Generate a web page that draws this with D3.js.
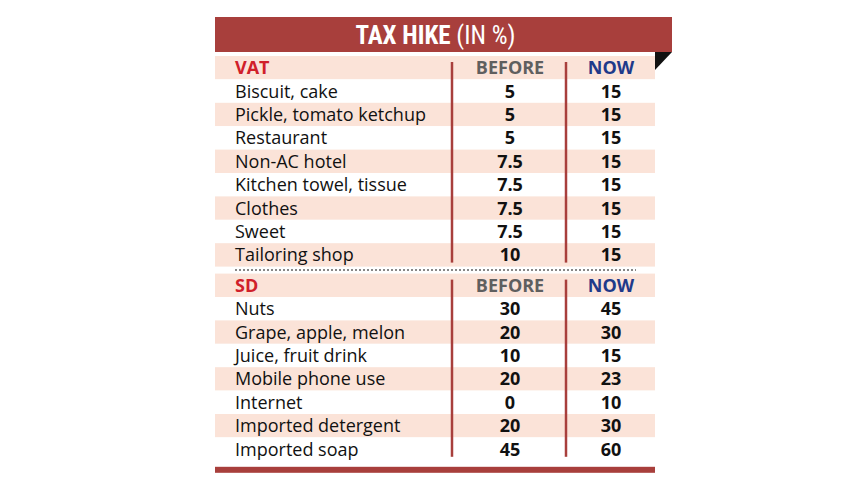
<!DOCTYPE html>
<html><head><meta charset="utf-8">
<script src="https://cdn.jsdelivr.net/npm/d3@7"></script>
<style>body{margin:0;background:#fff}</style>
</head><body>
<script>
var vatItems = ["Biscuit, cake","Pickle, tomato ketchup","Restaurant","Non-AC hotel","Kitchen towel, tissue","Clothes","Sweet","Tailoring shop"];
var vatBefore = ["5","5","5","7.5","7.5","7.5","7.5","10"];
var vatNow = ["15","15","15","15","15","15","15","15"];
var sdItems = ["Nuts","Grape, apple, melon","Juice, fruit drink","Mobile phone use","Internet","Imported detergent","Imported soap"];
var sdBefore = ["30","20","10","20","0","20","45"];
var sdNow = ["45","30","15","23","10","30","60"];

var W = 860, H = 484, left = 215, right = 655, rowH = 23.4;
var red = "#a83f3c", peach = "#fbe3d8", font = "'Open Sans', 'Noto Sans', sans-serif";
var svg = d3.select("body").append("svg").attr("width", W).attr("height", H);

// banner
svg.append("rect").attr("x", left).attr("y", 17).attr("width", 672 - left).attr("height", 35).attr("fill", red);
svg.append("path").attr("d", "M655,52 L672,52 L655,70 Z").attr("fill", "#111");
var t = svg.append("text").attr("x", (left + 672) / 2 - 8).attr("y", 44).attr("text-anchor", "middle")
  .attr("fill", "#fff").attr("font-family", "'Liberation Sans Narrow', 'Roboto Condensed', 'Open Sans', sans-serif")
  .attr("font-size", 25).attr("font-stretch", "condensed");
t.append("tspan").attr("font-weight", "bold").text("TAX HIKE ");
t.append("tspan").text("(IN %)");

function section(title, items, before, now, top) {
  var y = d3.scaleBand().domain(d3.range(items.length + 1)).range([top, top + rowH * (items.length + 1)]);
  var g = svg.append("g");
  g.selectAll("rect").data(d3.range(items.length + 1)).enter().append("rect")
    .attr("x", left).attr("y", function(d) { return y(d); })
    .attr("width", right - left).attr("height", y.bandwidth())
    .attr("fill", function(d) { return d % 2 == 0 ? peach : "#fff"; });
  var rows = [{l: title, b: "BEFORE", n: "NOW", h: true}].concat(items.map(function(d, i) {
    return {l: d, b: before[i], n: now[i]};
  }));
  var r = g.selectAll("g.row").data(rows).enter().append("g")
    .attr("transform", function(d, i) { return "translate(0," + (y(i) + y.bandwidth() / 2 + 6.5) + ")"; })
    .attr("font-family", font).attr("font-size", 18);
  r.append("text").attr("x", 235).text(function(d) { return d.l; })
    .attr("fill", function(d) { return d.h ? "#d0202a" : "#111"; })
    .attr("font-weight", function(d) { return d.h ? "bold" : "normal"; });
  r.append("text").attr("x", 510).attr("text-anchor", "middle").attr("font-weight", "bold")
    .attr("fill", function(d) { return d.h ? "#5f5f5f" : "#111"; }).text(function(d) { return d.b; });
  r.append("text").attr("x", 611).attr("text-anchor", "middle").attr("font-weight", "bold")
    .attr("fill", function(d) { return d.h ? "#1f3a8a" : "#111"; }).text(function(d) { return d.n; });
  [452, 566].forEach(function(x) {
    g.append("line").attr("x1", x).attr("x2", x).attr("y1", top + 6).attr("y2", y.range()[1] - 4)
      .attr("stroke", red).attr("stroke-width", 2.5);
  });
  return y.range()[1];
}

var end1 = section("VAT", vatItems, vatBefore, vatNow, 56);
svg.append("line").attr("x1", 235).attr("x2", 636).attr("y1", end1 + 3.5).attr("y2", end1 + 3.5)
  .attr("stroke", "#888").attr("stroke-width", 2).attr("stroke-dasharray", "2,2");
var end2 = section("SD", sdItems, sdBefore, sdNow, end1 + 7);
svg.append("rect").attr("x", left).attr("y", end2 + 6).attr("width", right - left).attr("height", 6).attr("fill", red);
</script>
</body></html>
